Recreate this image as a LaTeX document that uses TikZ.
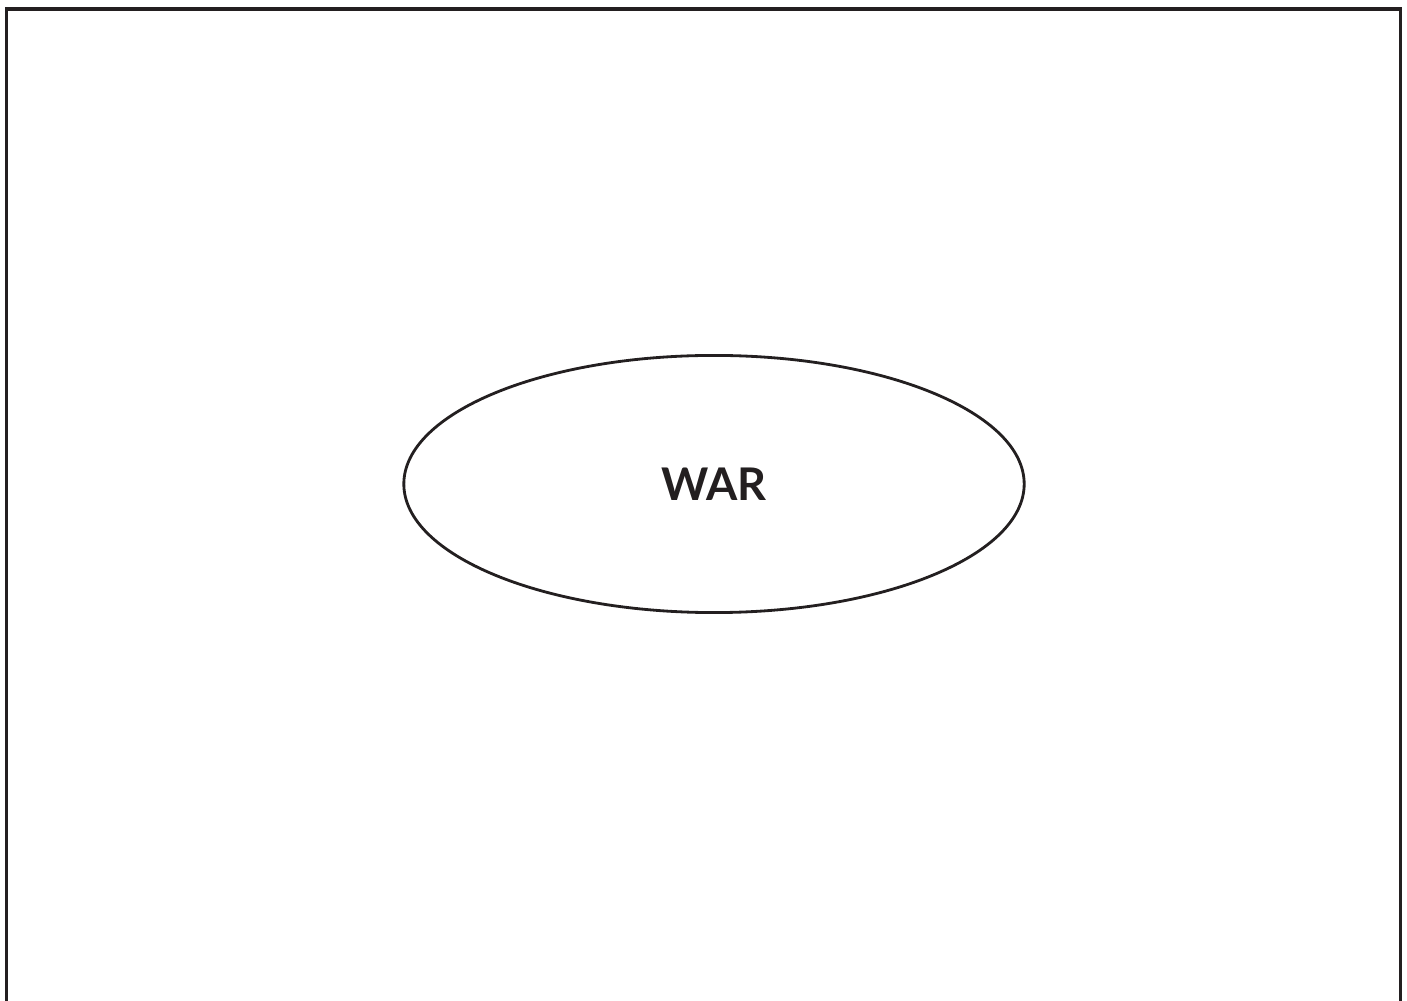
\documentclass[tikz,border=0pt]{standalone}
\usepackage{fontspec}
\setsansfont{Lato}
\usepackage{tikz}
\usetikzlibrary{shapes.geometric, positioning}
\definecolor{inkBlack}{HTML}{231F20}

\begin{document}
\begin{tikzpicture}[x=0.01cm, y=-0.01cm]
  \useasboundingbox (0,0) rectangle (1407,1001);
  \clip (0,0) rectangle (1407,1001);
  % Outer frame
  \draw[inkBlack, line width=1pt] (6.5,9) rectangle (1400.5,1010);

  % Central topic
  \node[ellipse, draw=inkBlack, line width=0.8pt, minimum width=6.2cm, minimum height=2.57cm,
        font=\sffamily\bfseries\fontsize{12.8}{15}\selectfont, text=inkBlack] (war) at (714,484)
        {\raisebox{-0.05cm}{WAR}};
\end{tikzpicture}
\end{document}
